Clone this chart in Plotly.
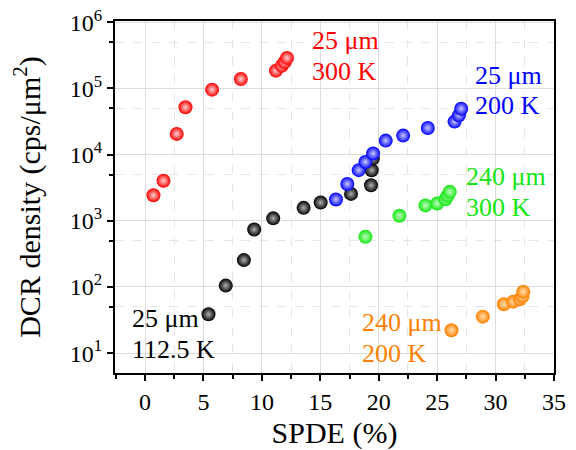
import numpy as np
import plotly.graph_objects as go

# ---- data ----
red_x = [0.72, 1.58, 2.71, 3.46, 5.74, 8.2, 11.2, 11.7, 11.95, 12.15]
red_y = [2430, 4040, 20600, 52000, 96000, 139000, 186000, 220000, 250000, 290000]

black_x = [5.43, 6.91, 8.46, 9.34, 10.97, 13.57, 15.03, 17.63, 19.34, 19.4, 19.5]
black_y = [38.7, 105, 255, 740, 1090, 1570, 1890, 2550, 3450, 5820, 8700]

blue_x = [16.34, 17.31, 18.29, 18.86, 19.52, 20.6, 22.09, 24.2, 26.49, 26.86, 27.06]
blue_y = [2100, 3610, 5830, 7760, 10400, 16300, 19400, 25300, 31600, 39300, 49500]

green_x = [18.86, 21.77, 24.0, 25.0, 25.71, 25.9, 26.08]
green_y = [574, 1190, 1710, 1830, 2120, 2400, 2740]

orange_x = [26.23, 28.91, 30.71, 31.51, 32.08, 32.3, 32.37]
orange_y = [22.2, 35.6, 54.8, 60, 65, 72, 85]

y_tickvals = [10, 100, 1000, 10000, 100000, 1000000]
y_ticktext = ["10<sup>1</sup>", "10<sup>2</sup>", "10<sup>3</sup>",
              "10<sup>4</sup>", "10<sup>5</sup>", "10<sup>6</sup>"]
y_minorvals = [5, 50, 500, 5000, 50000, 500000]

series = [
    ("red", red_x, red_y, "#ff0000", "#ffd0d0"),
    ("black", black_x, black_y, "#000000", "#b0b0b0"),
    ("blue", blue_x, blue_y, "#0000ff", "#c8c8ff"),
    ("green", green_x, green_y, "#14e614", "#c0ffc0"),
    ("orange", orange_x, orange_y, "#ff8000", "#ffe0b0"),
]

labels = [
    ("25 μm", 14.3, 5.725, "#ff0000"),
    ("300 K", 14.3, 5.258, "#ff0000"),
    ("25 μm", 28.2, 5.2, "#0000ff"),
    ("200 K", 28.2, 4.745, "#0000ff"),
    ("240 μm", 27.5, 3.665, "#14e614"),
    ("300 K", 27.5, 3.2, "#14e614"),
    ("25 μm", -1.1, 1.53, "#000000"),
    ("112.5 K", -1.1, 1.05, "#000000"),
    ("240 μm", 18.6, 1.457, "#ff8000"),
    ("200 K", 18.6, 0.99, "#ff8000"),
]

FONT = "Liberation Serif"

fig = go.Figure()
for name, xs, ys, col, hi in series:
    fig.add_trace(go.Scatter(
        x=xs, y=ys, mode="markers", name=name, showlegend=False,
        marker=dict(size=14, color=col,
                    gradient=dict(type="radial", color=hi),
                    line=dict(width=0)),
    ))

for txt, x, y, col in labels:
    fig.add_annotation(x=x, y=y, xref="x", yref="y", text=txt,
                       showarrow=False, xanchor="left", yanchor="middle",
                       xshift=-2,
                       font=dict(family=FONT, size=26, color=col))

fig.update_xaxes(
    range=[-2.57, 35], tickmode="linear", dtick=5, tick0=0, ticks="outside", ticklen=6,
    tickwidth=1.5, tickcolor="black", automargin=False, ticklabeloverflow="allow",
    showline=True, linecolor="black", linewidth=2, mirror=True,
    showgrid=True, gridcolor="#dddddd", gridwidth=1, zeroline=False,
    minor=dict(dtick=2.5, tick0=0, ticks="outside", ticklen=4, tickcolor="black",
               showgrid=True, gridcolor="#e6e6e6", griddash="dash"),
    title=dict(text="SPDE (%)", font=dict(family=FONT, size=30, color="black"), standoff=13),
    tickfont=dict(family=FONT, size=24, color="black"),
)
fig.update_yaxes(
    type="log", range=[0.7, 6.02], tickmode="array", tickvals=y_tickvals, ticktext=y_ticktext,
    ticks="outside", ticklen=6, tickwidth=1.5, tickcolor="black", automargin=False,
    ticklabeloverflow="allow",
    showline=True, linecolor="black", linewidth=2, mirror=True,
    showgrid=True, gridcolor="#dddddd", gridwidth=1, zeroline=False,
    minor=dict(tickmode="array", tickvals=y_minorvals,
               ticks="outside", ticklen=4, tickcolor="black",
               showgrid=True, gridcolor="#e6e6e6", griddash="dash"),
    title=dict(text="DCR density (cps/μm<sup>2</sup>)", font=dict(family=FONT, size=30, color="black"), standoff=24),
    tickfont=dict(family=FONT, size=24, color="black"),
)
# the page adds an 8px body margin, so the figure is made 8px smaller
fig.update_layout(
    width=568, height=442,
    margin=dict(l=107, r=22, t=13, b=77),
    plot_bgcolor="white", paper_bgcolor="white",
)
fig.write_html("out.html")
